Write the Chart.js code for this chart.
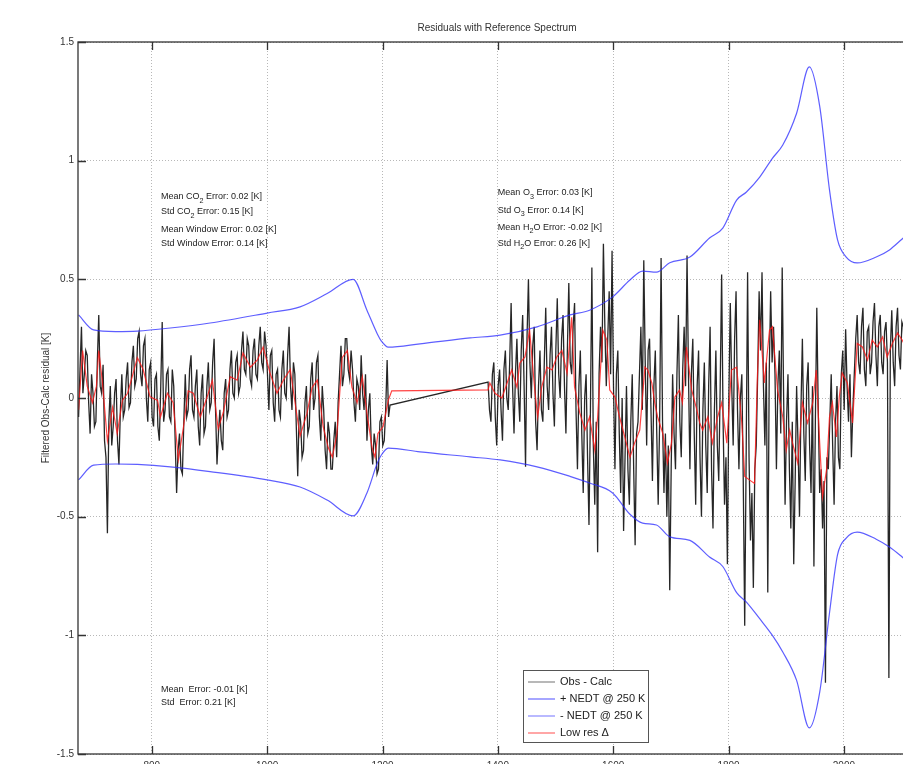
<!DOCTYPE html>
<html>
<head>
<meta charset="utf-8">
<title>Residuals with Reference Spectrum</title>
<script src="https://cdn.jsdelivr.net/npm/chart.js@4.4.1/dist/chart.umd.min.js"></script>
<style>
  html, body { margin: 0; padding: 0; background: #fff; overflow: hidden; }
  #wrap { position: relative; width: 930px; height: 790px; }
</style>
</head>
<body>
<div id="wrap"><canvas id="residuals" width="930" height="790"></canvas></div>
<script>
const FONT = '"Liberation Sans", Arial, sans-serif';

// axis ticks (cm-1 and K)
const xTicks = [800, 1000, 1200, 1400, 1600, 1800, 2000];
const yTicks = [-1.5, -1, -0.5, 0, 0.5, 1, 1.5];

// Obs - Calc on a 2.5 cm-1 grid, two bands
const obsStart1 = 673;
const obsStart2 = 1383;
const obsStep = 2.5;
const obsCalc1 = [
  -0.08, 0.12, 0.30, 0.02, 0.10, 0.20, 0.18, -0.02, -0.15, 0.10, 0.02, -0.12, -0.10, 0.15, 0.35, 0.05, 0.02, 0.14, -0.18, -0.25,
  -0.57, -0.10, 0.05, -0.20, -0.12, 0.02, 0.08, -0.18, -0.28, -0.05, 0.10, -0.08, -0.05, 0.08, 0.15, -0.04, -0.02, 0.15, 0.22, 0.05,
  0.08, 0.25, 0.28, 0.10, 0.05, 0.22, 0.25, 0.00, -0.10, 0.12, 0.15, -0.08, -0.12, 0.08, 0.10, -0.12, -0.18, 0.05, 0.32, -0.10,
  -0.05, 0.10, 0.12, -0.08, -0.10, 0.12, 0.05, -0.18, -0.40, -0.22, -0.15, -0.30, -0.32, -0.10, 0.10, -0.08, -0.05, 0.12, 0.18, -0.05,
  -0.08, 0.05, 0.12, -0.12, -0.20, 0.02, 0.10, -0.15, -0.12, 0.05, 0.15, -0.05, -0.02, 0.15, 0.25, -0.05, -0.28, -0.15, -0.05, -0.18,
  -0.22, 0.02, 0.08, -0.08, -0.05, 0.12, 0.20, 0.02, 0.00, 0.15, 0.18, 0.02, 0.05, 0.20, 0.28, 0.12, 0.10, 0.25, 0.22, 0.08,
  0.05, 0.20, 0.25, 0.10, 0.08, 0.22, 0.30, 0.15, 0.12, 0.28, 0.22, 0.10, -0.05, 0.18, 0.20, -0.02, -0.10, 0.10, 0.12, -0.05,
  -0.08, 0.12, 0.20, 0.02, 0.00, 0.18, 0.30, 0.05, -0.05, 0.15, 0.10, -0.12, -0.33, -0.05, -0.10, -0.25, -0.22, -0.02, 0.05, -0.15,
  -0.12, 0.08, 0.15, -0.05, 0.00, 0.15, 0.18, -0.08, -0.18, 0.05, -0.05, -0.22, -0.30, -0.10, -0.15, -0.30, -0.30, -0.18, -0.10, -0.25,
  -0.02, 0.10, 0.22, 0.05, 0.10, 0.25, 0.25, 0.12, 0.08, 0.20, 0.12, -0.02, -0.10, 0.08, 0.05, -0.05, 0.18, 0.02, -0.05, 0.10,
  -0.18, -0.05, 0.02, -0.20, -0.28, -0.15, -0.20, -0.32, -0.30, -0.10, -0.08, -0.20, -0.18, -0.05, 0.16, -0.08, -0.03
];
const obsCalc2 = [
  0.067, -0.05, -0.10, 0.10, 0.15, -0.08, -0.20, 0.05, 0.12, -0.05, -0.18, 0.12, 0.20, 0.00, -0.05, 0.15, 0.40, 0.05, -0.15, 0.10,
  0.25, 0.02, -0.10, 0.20, 0.35, 0.05, -0.29, 0.25, 0.50, 0.15, 0.00, 0.22, 0.30, -0.10, -0.22, 0.05, 0.20, -0.05, -0.10, 0.15,
  0.38, 0.05, -0.05, 0.18, 0.30, 0.02, -0.12, 0.20, 0.42, 0.10, 0.00, 0.25, 0.35, 0.05, -0.15, 0.20, 0.485, 0.15, 0.10, 0.30,
  0.40, -0.05, -0.30, 0.05, 0.20, -0.15, -0.40, 0.00, 0.10, -0.25, -0.535, -0.05, 0.55, -0.20, -0.45, -0.10, -0.65, 0.10, 0.30, 0.15,
  0.65, 0.30, 0.05, 0.25, 0.45, 0.10, 0.62, 0.05, -0.30, 0.10, 0.20, -0.15, -0.40, 0.00, -0.56, -0.25, 0.05, -0.30, -0.45, -0.10,
  0.10, -0.30, -0.62, -0.15, -0.10, 0.10, 0.30, -0.05, 0.58, 0.15, -0.20, 0.20, 0.25, -0.05, -0.35, 0.05, 0.20, -0.15, -0.45, -0.10,
  0.59, -0.10, -0.40, -0.15, -0.50, -0.20, -0.81, -0.30, 0.10, -0.15, -0.30, 0.10, 0.35, -0.10, -0.25, 0.12, 0.30, 0.05, 0.60, 0.10,
  -0.30, 0.10, 0.25, -0.15, -0.45, 0.05, 0.20, -0.25, -0.50, -0.05, 0.15, -0.20, -0.40, 0.05, 0.30, -0.30, -0.55, -0.05, 0.20, -0.20,
  -0.35, 0.05, 0.52, -0.10, -0.45, -0.25, -0.70, 0.00, 0.40, 0.05, -0.20, 0.25, 0.45, -0.05, -0.30, 0.00, 0.10, -0.35, -0.96, -0.25,
  0.53, -0.25, -0.60, -0.40, -0.80, -0.30, -0.20, 0.10, 0.45, 0.20, 0.53, 0.05, -0.20, 0.15, -0.82, 0.10, 0.45, 0.15, 0.30, 0.10,
  -0.30, 0.05, 0.20, -0.15, 0.55, 0.00, -0.45, -0.10, 0.10, -0.30, -0.55, -0.10, -0.70, -0.35, 0.05, -0.20, -0.50, -0.05, 0.25, -0.15,
  -0.35, 0.05, 0.15, -0.20, -0.40, 0.05, -0.71, -0.10, 0.38, -0.05, -0.40, -0.30, -0.55, -0.35, -1.20, -0.25, -0.30, -0.10, 0.10, -0.20,
  -0.45, -0.10, 0.05, -0.25, -0.30, 0.10, 0.20, -0.05, 0.29, 0.05, -0.10, 0.10, -0.25, -0.05, 0.10, 0.25, 0.35, 0.15, 0.10, 0.30,
  0.38, 0.12, 0.05, 0.28, 0.30, 0.10, 0.15, 0.32, 0.40, 0.18, 0.05, 0.30, 0.35, 0.15, 0.10, 0.28, 0.32, 0.15, -1.18, 0.20,
  0.37, 0.15, 0.05, 0.30, 0.38, 0.18, 0.12, 0.32, 0.30, 0.15, 0.05, 0.28, 0.35, 0.12, 0.15, 0.30, 0.30
];

// NEDT envelope @ 250 K
const nedtX = [673, 699, 737, 775, 832, 901, 1000, 1057, 1104, 1149, 1173, 1191, 1198, 1210, 1265, 1352, 1404, 1468, 1525, 1559,
  1599, 1629, 1651, 1675, 1698, 1733, 1767, 1790, 1814, 1831, 1854, 1876, 1894, 1918, 1940, 1958, 1975, 1989, 2004, 2023,
  2056, 2079, 2101, 2125];
const plusNedt = [0.35, 0.287, 0.28, 0.282, 0.295, 0.316, 0.358, 0.384, 0.44, 0.50, 0.37, 0.27, 0.24, 0.214, 0.228, 0.253, 0.265, 0.30, 0.35, 0.37,
  0.426, 0.497, 0.535, 0.53, 0.57, 0.594, 0.674, 0.716, 0.834, 0.868, 0.931, 1.01, 1.066, 1.20, 1.395, 1.23, 0.877, 0.666, 0.594, 0.569,
  0.594, 0.624, 0.67, 0.72];
const minusNedt = [-0.345, -0.283, -0.278, -0.28, -0.29, -0.31, -0.345, -0.375, -0.43, -0.497, -0.40, -0.274, -0.24, -0.211, -0.227, -0.248, -0.261, -0.29, -0.33, -0.358,
  -0.40, -0.49, -0.527, -0.535, -0.585, -0.60, -0.67, -0.71, -0.82, -0.86, -0.93, -1.00, -1.07, -1.19, -1.39, -1.24, -0.906, -0.66, -0.59, -0.565,
  -0.595, -0.628, -0.67, -0.72];

// low resolution difference
const lowResX = [673, 680, 688, 697, 704, 708, 714, 723, 732, 740, 749, 758, 766, 775, 785, 797, 810, 815, 827, 837,
  846, 855, 863, 872, 884, 896, 905, 915, 924, 936, 948, 958, 971, 983, 993, 1005, 1017, 1028, 1040, 1052,
  1057, 1069, 1078, 1087, 1097, 1106, 1113, 1121, 1130, 1139, 1147, 1156, 1165, 1173, 1182, 1187, 1192, 1201, 1210, 1216,
  1383, 1386, 1395, 1407, 1416, 1424, 1433, 1438, 1447, 1455, 1464, 1469, 1476, 1485, 1494, 1502, 1511, 1520, 1528, 1533,
  1542, 1551, 1559, 1568, 1573, 1582, 1589, 1594, 1603, 1611, 1620, 1629, 1637, 1646, 1655, 1660, 1667, 1672, 1677, 1686,
  1694, 1701, 1707, 1715, 1720, 1727, 1736, 1745, 1750, 1755, 1764, 1772, 1781, 1788, 1797, 1805, 1814, 1823, 1828, 1836,
  1845, 1850, 1854, 1862, 1871, 1876, 1885, 1894, 1900, 1906, 1911, 1920, 1928, 1937, 1946, 1952, 1958, 1963, 1970, 1975,
  1980, 1987, 1992, 1997, 2006, 2015, 2023, 2032, 2041, 2049, 2058, 2067, 2075, 2084, 2093, 2101, 2110, 2120];
const lowRes = [-0.05, 0.20, 0.05, -0.02, 0.05, 0.20, 0.075, -0.18, -0.04, -0.15, -0.01, 0.02, 0.09, 0.17, 0.12, 0.005, -0.01, -0.08, 0.02, -0.02,
  -0.26, -0.12, 0.03, 0.02, -0.08, 0.005, 0.075, -0.13, -0.06, 0.09, 0.075, 0.19, 0.13, 0.16, 0.215, 0.105, 0.02, 0.075, 0.12, -0.08,
  -0.16, -0.065, 0.045, 0.075, -0.12, -0.21, -0.25, -0.15, 0.17, 0.20, 0.045, -0.02, 0.09, -0.065, -0.21, -0.25, -0.15, -0.12, -0.01, 0.03,
  0.034, 0.063, 0.02, 0.0, 0.063, 0.118, 0.046, 0.147, 0.173, 0.286, 0.034, -0.08, 0.046, 0.13, 0.118, 0.173, 0.20, 0.105, 0.34, 0.046,
  -0.063, -0.135, -0.08, -0.22, -0.08, 0.286, 0.244, 0.034, 0.004, -0.08, -0.164, -0.25, -0.19, -0.135, 0.13, 0.118, 0.063, -0.02, -0.08, -0.15,
  -0.274, -0.19, 0.004, 0.034, -0.02, 0.215, 0.034, -0.05, -0.105, -0.135, -0.08, -0.19, -0.08, -0.02, -0.19, 0.118, 0.13, -0.105, -0.33, -0.345,
  -0.36, 0.09, 0.33, 0.063, 0.286, 0.30, 0.034, -0.08, -0.22, -0.135, -0.19, -0.274, -0.02, -0.105, -0.02, 0.118, -0.19, -0.415, -0.30, -0.08,
  -0.02, -0.164, 0.004, 0.105, 0.063, -0.105, 0.23, 0.215, 0.16, 0.244, 0.215, 0.257, 0.173, 0.23, 0.274, 0.244, 0.20, 0.26];

const notes = [
  { x: 816, y: 0.847, text: 'Mean CO_2 Error: 0.02 [K]' },
  { x: 816, y: 0.784, text: 'Std CO_2 Error: 0.15 [K]' },
  { x: 816, y: 0.712, text: 'Mean Window Error: 0.02 [K]' },
  { x: 816, y: 0.653, text: 'Std Window Error: 0.14 [K]' },
  { x: 1400, y: 0.864, text: 'Mean O_3 Error: 0.03 [K]' },
  { x: 1400, y: 0.792, text: 'Std O_3 Error: 0.14 [K]' },
  { x: 1400, y: 0.720, text: 'Mean H_2O Error: -0.02 [K]' },
  { x: 1400, y: 0.653, text: 'Std H_2O Error: 0.26 [K]' },
  { x: 816, y: -1.230, text: 'Mean  Error: -0.01 [K]' },
  { x: 816, y: -1.285, text: 'Std  Error: 0.21 [K]' }
];

const obsPoints = obsCalc1.map((v, i) => ({ x: obsStart1 + i * obsStep, y: v }))
  .concat(obsCalc2.map((v, i) => ({ x: obsStart2 + i * obsStep, y: v })));
const plusPoints = nedtX.map((x, i) => ({ x: x, y: plusNedt[i] }));
const minusPoints = nedtX.map((x, i) => ({ x: x, y: minusNedt[i] }));
const lowResPoints = lowResX.map((x, i) => ({ x: x, y: lowRes[i] }));

// text with _n subscripts
function drawRich(ctx, str, x, y, size) {
  const parts = str.split(/_(\d)/);
  let cx = x;
  parts.forEach((p, i) => {
    const sub = i % 2 === 1;
    ctx.font = (sub ? size * 0.8 : size) + 'px ' + FONT;
    ctx.fillText(p, cx, sub ? y + size * 0.4 : y);
    cx += ctx.measureText(p).width;
  });
}

const decorations = {
  id: 'decorations',
  afterDraw(chart) {
    const { ctx, chartArea: a, scales } = chart;
    ctx.save();

    // axes box with inward ticks
    ctx.strokeStyle = '#333';
    ctx.lineWidth = 1.3;
    ctx.strokeRect(a.left, a.top, a.right - a.left, a.bottom - a.top);
    ctx.beginPath();
    xTicks.forEach(v => {
      const px = Math.round(scales.x.getPixelForValue(v)) + 0.5;
      ctx.moveTo(px, a.bottom); ctx.lineTo(px, a.bottom - 8);
      ctx.moveTo(px, a.top); ctx.lineTo(px, a.top + 8);
    });
    yTicks.forEach(v => {
      const py = Math.round(scales.y.getPixelForValue(v)) + 0.5;
      ctx.moveTo(a.left, py); ctx.lineTo(a.left + 8, py);
      ctx.moveTo(a.right, py); ctx.lineTo(a.right - 8, py);
    });
    ctx.stroke();

    // title and y label
    ctx.fillStyle = '#333';
    ctx.font = '10px ' + FONT;
    ctx.textAlign = 'center';
    ctx.textBaseline = 'middle';
    ctx.fillText('Residuals with Reference Spectrum', (a.left + a.right) / 2, 28);
    ctx.save();
    ctx.translate(46, (a.top + a.bottom) / 2);
    ctx.rotate(-Math.PI / 2);
    ctx.fillText('Filtered Obs-Calc residual [K]', 0, 0);
    ctx.restore();

    // error statistics
    ctx.textAlign = 'left';
    ctx.fillStyle = '#222';
    notes.forEach(n => {
      drawRich(ctx, n.text, scales.x.getPixelForValue(n.x), scales.y.getPixelForValue(n.y), 9);
    });

    // legend box
    const lx = 523, ly = 670, lw = 125, lh = 72;
    ctx.fillStyle = '#fff';
    ctx.fillRect(lx, ly, lw, lh);
    ctx.strokeStyle = '#555';
    ctx.lineWidth = 1;
    ctx.strokeRect(lx + 0.5, ly + 0.5, lw, lh);
    chart.data.datasets.forEach((ds, i) => {
      const ry = ly + 12 + i * 17;
      ctx.strokeStyle = ds.legendColor;
      ctx.lineWidth = 1.2;
      ctx.beginPath();
      ctx.moveTo(lx + 5, ry); ctx.lineTo(lx + 32, ry);
      ctx.stroke();
      ctx.fillStyle = '#222';
      ctx.font = '11px ' + FONT;
      ctx.fillText(ds.label, lx + 37, ry);
    });
    ctx.restore();
  }
};

const ctx = document.getElementById('residuals').getContext('2d');
new Chart(ctx, {
  type: 'line',
  data: {
    datasets: [{
      label: 'Obs - Calc',
      data: obsPoints,
      borderColor: 'rgba(0, 0, 0, 0.85)',
      legendColor: '#888',
      borderWidth: 1.3,
      pointRadius: 0,
      order: 3
    }, {
      label: '+ NEDT @ 250 K',
      data: plusPoints,
      borderColor: 'rgba(40, 40, 255, 0.75)',
      legendColor: '#6a6aff',
      borderWidth: 1.2,
      pointRadius: 0,
      cubicInterpolationMode: 'monotone',
      order: 1
    }, {
      label: '- NEDT @ 250 K',
      data: minusPoints,
      borderColor: 'rgba(40, 40, 255, 0.75)',
      legendColor: '#8a8aff',
      borderWidth: 1.2,
      pointRadius: 0,
      cubicInterpolationMode: 'monotone',
      order: 2
    }, {
      label: 'Low res \u0394',
      data: lowResPoints,
      borderColor: 'rgba(255, 20, 20, 0.8)',
      legendColor: '#ff6a6a',
      borderWidth: 1.2,
      pointRadius: 0,
      order: 0
    }]
  },
  options: {
    responsive: false,
    animation: false,
    layout: { padding: { top: 42, right: 14, left: 0, bottom: 0 } },
    plugins: {
      legend: { display: false },
      tooltip: { enabled: false }
    },
    scales: {
      x: {
        type: 'linear',
        min: 672,
        max: 2125,
        afterFit: s => { s.height = 36; },
        afterBuildTicks: s => { s.ticks = xTicks.map(v => ({ value: v })); },
        grid: { color: '#b8b8b8', lineWidth: 1, drawTicks: false },
        border: { display: false, dash: [1, 2] },
        ticks: {
          autoSkip: false,
          maxRotation: 0,
          padding: 6,
          color: '#333',
          font: { family: FONT, size: 10 },
          callback: v => String(v)
        }
      },
      y: {
        min: -1.5,
        max: 1.5,
        afterFit: s => { s.width = 78; },
        afterBuildTicks: s => { s.ticks = yTicks.map(v => ({ value: v })); },
        grid: { color: '#b8b8b8', lineWidth: 1, drawTicks: false },
        border: { display: false, dash: [1, 2] },
        ticks: {
          padding: 4,
          color: '#333',
          font: { family: FONT, size: 10 },
          callback: v => String(v)
        }
      }
    }
  },
  plugins: [decorations]
});
</script>
</body>
</html>
